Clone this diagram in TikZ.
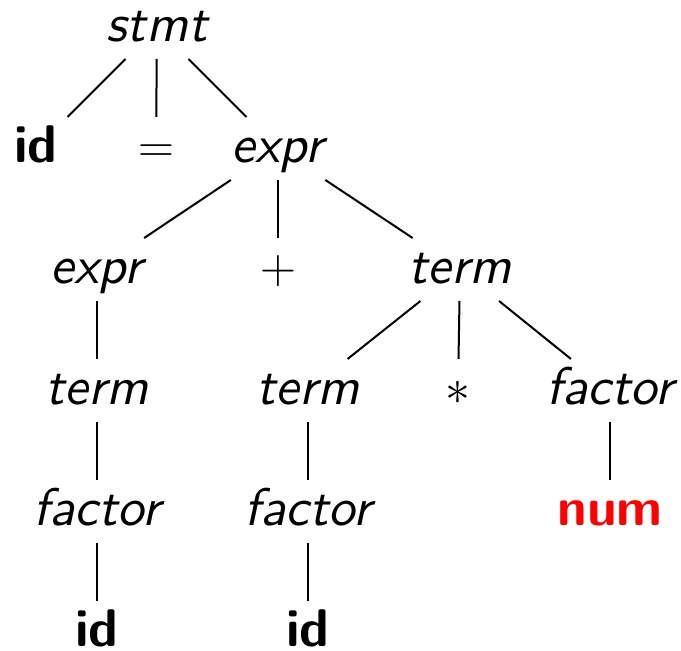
\documentclass[tikz,border=0pt]{standalone}
\usepackage{fontspec}
\usepackage{tikz}
\usetikzlibrary{positioning}

\newfontfamily\treefont{lmsans10}[Extension=.otf, UprightFont=*-regular,
  ItalicFont=*-oblique, BoldFont=*-bold]

\tikzset{
  sym/.style={draw=none, fill=none, inner sep=0pt,
    minimum width=64pt, minimum height=30.5pt,
    text height=19pt, text depth=4.5pt,
    font=\fontsize{26.5}{30}\selectfont\treefont\itshape},
  tok/.style={sym, font=\fontsize{26.5}{30}\selectfont\treefont\bfseries},
}

\begin{document}
\begin{tikzpicture}[x=0.5pt, y=-0.5pt, line width=1pt]
  \useasboundingbox (0,0) rectangle (681,651);

  % level 0 and 1
  \node[sym] (stmt)  at (157,27.5)  {stmt};
  \node[tok] (id_0)  at (36,148.5)  {id};
  \node[sym] (eq)    at (156,148.5) {$=$};
  \node[sym] (expr_0) at (278,148.5) {expr};

  % level 2
  \node[sym] (expr_1) at (97,269.5)  {expr};
  \node[sym] (plus)   at (278,269.5) {$+$};
  \node[sym] (term_0) at (460,269.5) {term};

  % level 3
  \node[sym] (term_1)   at (97,390.5)  {term};
  \node[sym] (term_2)   at (308,390.5) {term};
  \node[sym] (times)    at (458,390.5) {$\ast$};
  \node[sym] (factor_0) at (610,390.5) {factor};

  % level 4 and 5
  \node[sym] (factor_1) at (97,511.5)  {factor};
  \node[sym] (factor_2) at (308,511.5) {factor};
  \node[tok, text=red] (num) at (610,511.5) {num};
  \node[tok] (id_1) at (97,632.5)  {id};
  \node[tok] (id_2) at (308,632.5) {id};

  \path[-]
    (stmt) edge (id_0)
    (stmt) edge (eq)
    (stmt) edge (expr_0)
    (expr_0) edge (expr_1)
    (expr_0) edge (plus)
    (expr_0) edge (term_0)
    (expr_1) edge (term_1)
    (term_0) edge (term_2)
    (term_0) edge (times)
    (term_0) edge (factor_0)
    (term_1) edge (factor_1)
    (term_2) edge (factor_2)
    (factor_0) edge (num)
    (factor_1) edge (id_1)
    (factor_2) edge (id_2);
\end{tikzpicture}
\end{document}
